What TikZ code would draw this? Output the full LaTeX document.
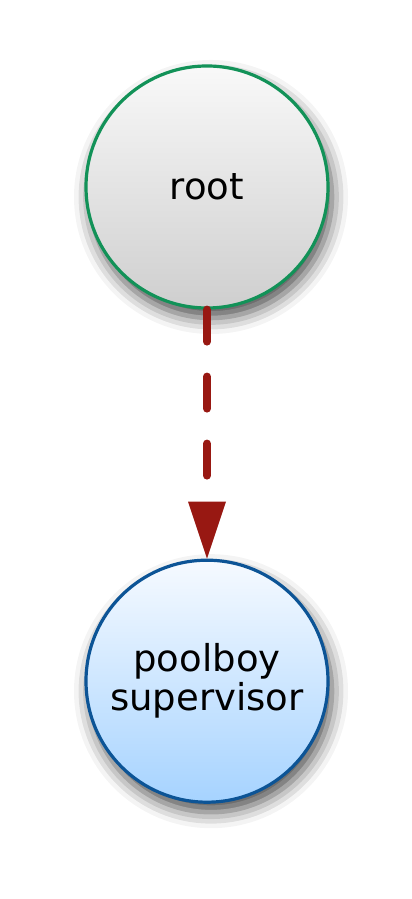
\documentclass[tikz,border=0pt]{standalone}
\usepackage{fontspec}
\setmainfont{DejaVu Sans}
\usepackage{tikz}
\usetikzlibrary{positioning,arrows.meta,shadows.blur}

\definecolor{rootline}{RGB}{18,146,88}
\definecolor{supline}{RGB}{12,84,150}
\definecolor{linkred}{RGB}{152,24,18}
\definecolor{suptop}{RGB}{246,250,255}
\definecolor{supbottom}{RGB}{166,211,255}

\begin{document}
\begin{tikzpicture}[
  x=1pt, y=1pt,
  font=\fontsize{37}{39}\selectfont,
  proc/.style={circle, minimum size=242pt, inner sep=0pt, line width=3.2pt, align=center,
    blur shadow={shadow xshift=4pt, shadow yshift=-10pt, shadow blur radius=16pt, shadow opacity=70}},
  rootnode/.style={proc, draw=rootline, top color=gray!5, bottom color=gray!38},
  supnode/.style={proc, draw=supline, top color=suptop, bottom color=supbottom},
  link/.style={draw=linkred, line width=8pt, line cap=round, dash pattern=on 32pt off 35pt,
    -{Triangle[length=57pt, width=38pt, line width=0pt]}}
]
  \useasboundingbox (0,0) rectangle (412,899);
  \node[rootnode] (root) at (207,712) {root};
  \node[supnode, below=249pt of root] (sup) {poolboy\\supervisor};
  \path[link] (root.south) -- (sup.north);
\end{tikzpicture}
\end{document}
